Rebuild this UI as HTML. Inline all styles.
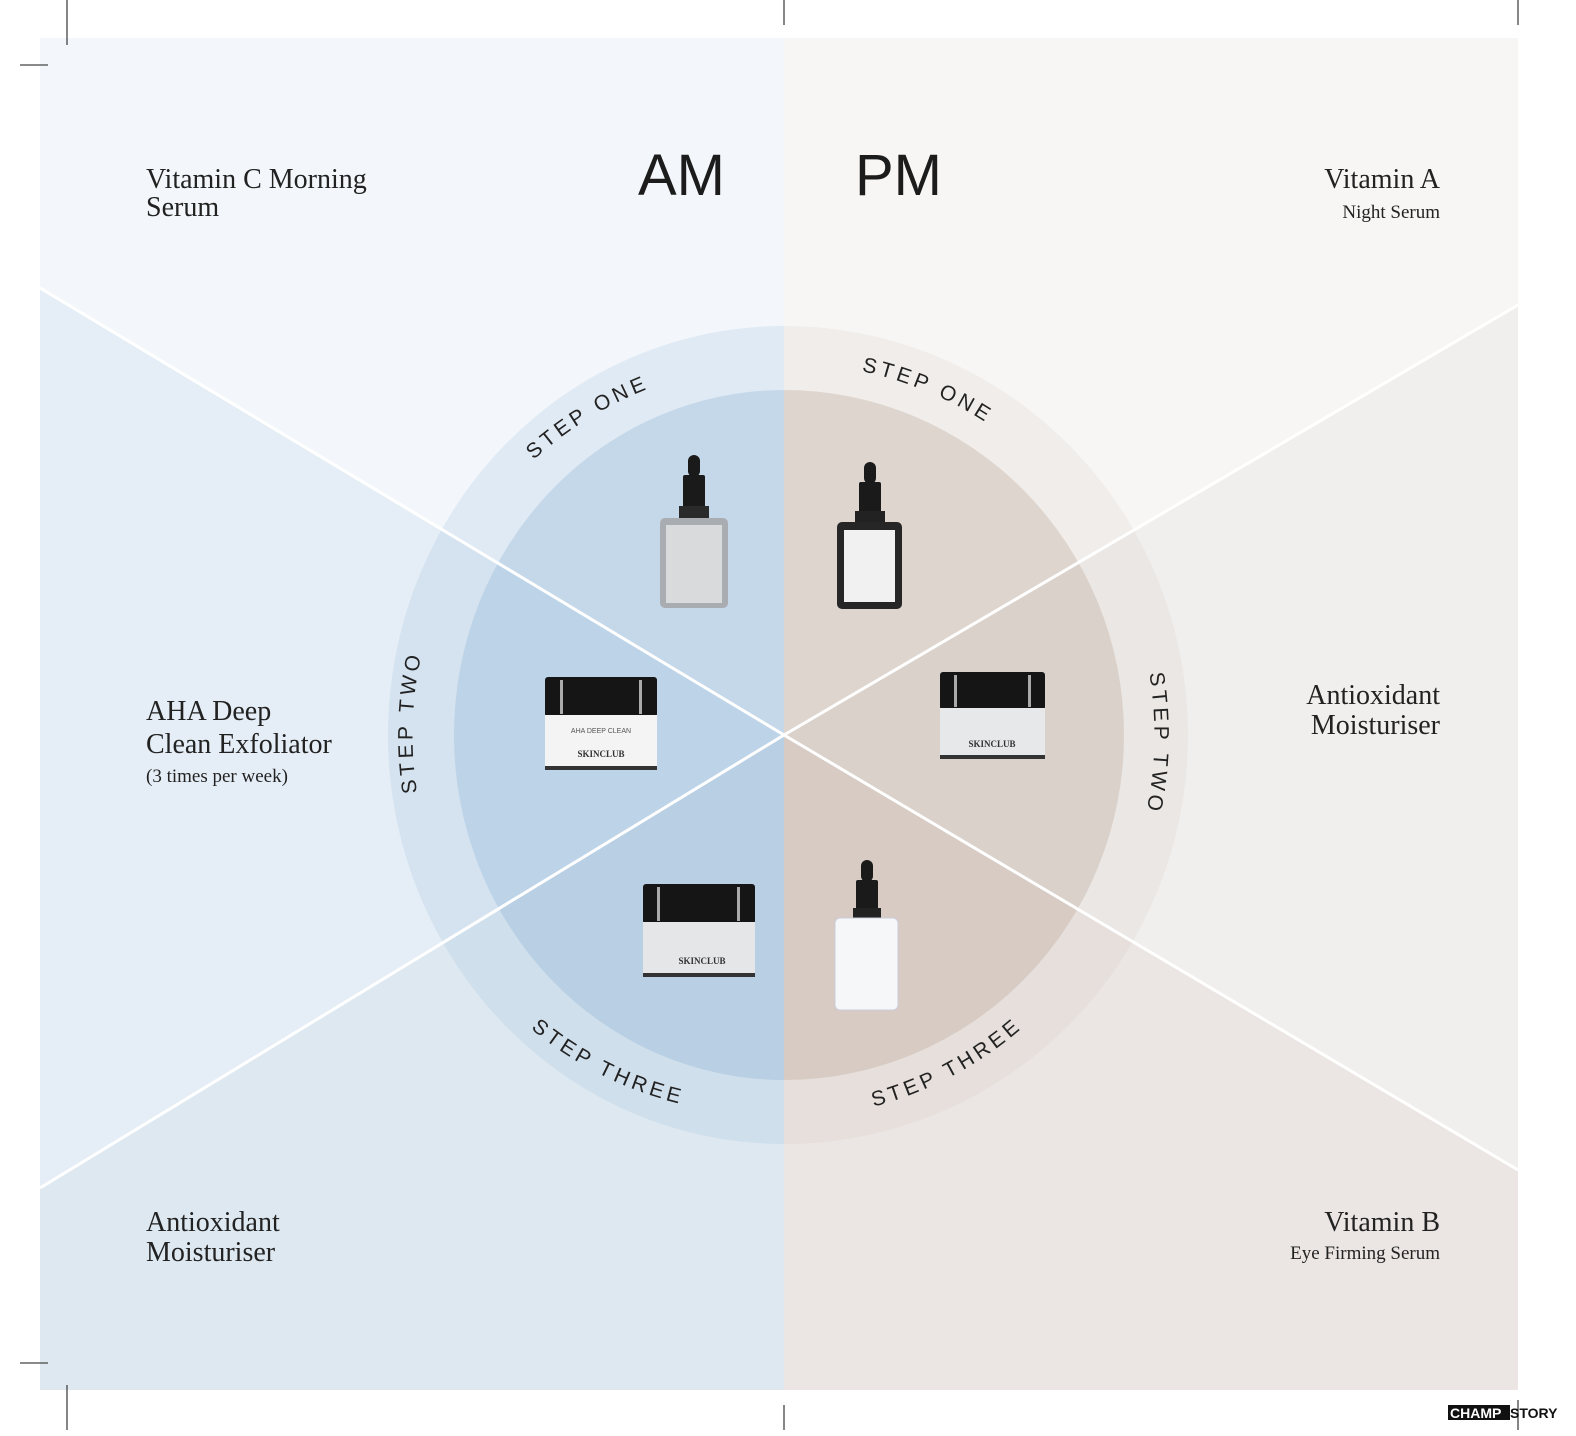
<!DOCTYPE html>
<html><head><meta charset="utf-8"><style>
html,body{margin:0;padding:0;background:#fff;}
svg{display:block;}
.lbl{font-family:"Liberation Serif",serif;fill:#222;}
.step{font-family:"Liberation Sans",sans-serif;font-size:21px;letter-spacing:4px;fill:#222;}
</style></head><body>
<svg width="1576" height="1436" viewBox="0 0 1576 1436" xmlns="http://www.w3.org/2000/svg">
<defs>
<clipPath id="L"><rect x="40" y="38" width="744" height="1352"/></clipPath>
<clipPath id="R"><rect x="784" y="38" width="734" height="1352"/></clipPath>
</defs>
<polygon points="40,38 784,38 784,735 40,288" fill="#f3f7fb"/>
<polygon points="40,288 784,735 40,1188" fill="#e5eef6"/>
<polygon points="40,1188 784,735 784,1390 40,1390" fill="#dde8f1"/>
<polygon points="784,38 1518,38 1518,305 784,735" fill="#f7f6f5"/>
<polygon points="1518,305 784,735 1518,1170" fill="#f1efee"/>
<polygon points="784,735 1518,1170 1518,1390 784,1390" fill="#ebe6e3"/>
<g clip-path="url(#L)">
<ellipse cx="784" cy="735" rx="396" ry="409" fill="rgba(160,192,220,0.22)"/>
<ellipse cx="784" cy="735" rx="330" ry="345" fill="rgba(140,178,210,0.32)"/>
</g>
<g clip-path="url(#R)">
<ellipse cx="784" cy="735" rx="404" ry="409" fill="rgba(200,185,175,0.15)"/>
<ellipse cx="784" cy="735" rx="340" ry="345" fill="rgba(185,165,150,0.33)"/>
</g>
<g stroke="#fff" stroke-width="3">
<line x1="40" y1="288" x2="784" y2="735"/>
<line x1="40" y1="1188" x2="784" y2="735"/>
<line x1="1518" y1="305" x2="784" y2="735"/>
<line x1="1518" y1="1170" x2="784" y2="735"/>
</g>
<g stroke="#444" stroke-width="1.3">
<line x1="67" y1="0" x2="67" y2="45"/><line x1="20" y1="65" x2="48" y2="65"/>
<line x1="784" y1="0" x2="784" y2="25"/><line x1="1518" y1="0" x2="1518" y2="25"/>
<line x1="20" y1="1363" x2="48" y2="1363"/><line x1="67" y1="1385" x2="67" y2="1430"/>
<line x1="784" y1="1405" x2="784" y2="1430"/><line x1="1518" y1="1400" x2="1518" y2="1430"/>
</g>
<path id="p1" d="M 499 496 A 372 372 0 0 1 784 363" fill="none"/>
<path id="p2" d="M 784 363 A 372 372 0 0 1 1101 540" fill="none"/>
<path id="p3" d="M 424 826 A 368 368 0 0 1 424 644" fill="none"/>
<path id="p4" d="M 1142 640 A 370 370 0 0 1 1142 830" fill="none"/>
<path id="p5" d="M 500 1000 A 372 372 0 0 0 700 1108" fill="none"/>
<path id="p6" d="M 860 1110 A 372 372 0 0 0 1060 990" fill="none"/>
<text class="step"><textPath href="#p1" startOffset="50">STEP ONE</textPath></text>
<text class="step"><textPath href="#p2" startOffset="78">STEP ONE</textPath></text>
<text class="step"><textPath href="#p3" startOffset="34">STEP TWO</textPath></text>
<text class="step"><textPath href="#p4" startOffset="34">STEP TWO</textPath></text>
<text class="step"><textPath href="#p5" startOffset="42">STEP THREE</textPath></text>
<text class="step"><textPath href="#p6" startOffset="14">STEP THREE</textPath></text>
<text x="638" y="195" font-family="Liberation Sans,sans-serif" font-size="58" fill="#1c1c1c">AM</text>
<text x="855" y="195" font-family="Liberation Sans,sans-serif" font-size="58" fill="#1c1c1c">PM</text>
<text class="lbl" x="146" y="188" font-size="28">Vitamin C Morning</text>
<text class="lbl" x="146" y="216" font-size="28">Serum</text>
<text class="lbl" x="146" y="720" font-size="28">AHA Deep</text>
<text class="lbl" x="146" y="753" font-size="28">Clean Exfoliator</text>
<text class="lbl" x="146" y="782" font-size="19">(3 times per week)</text>
<text class="lbl" x="146" y="1231" font-size="28">Antioxidant</text>
<text class="lbl" x="146" y="1261" font-size="28">Moisturiser</text>
<text class="lbl" x="1440" y="188" font-size="28" text-anchor="end">Vitamin A</text>
<text class="lbl" x="1440" y="218" font-size="19" text-anchor="end">Night Serum</text>
<text class="lbl" x="1440" y="704" font-size="28" text-anchor="end">Antioxidant</text>
<text class="lbl" x="1440" y="734" font-size="28" text-anchor="end">Moisturiser</text>
<text class="lbl" x="1440" y="1231" font-size="28" text-anchor="end">Vitamin B</text>
<text class="lbl" x="1440" y="1259" font-size="19" text-anchor="end">Eye Firming Serum</text>
<g>
<rect x="688" y="455" width="12" height="22" rx="6" fill="#1a1a1a"/>
<rect x="683" y="475" width="22" height="34" rx="2" fill="#1a1a1a"/>
<rect x="679" y="506" width="30" height="14" fill="#2a2a2a"/>
<rect x="660" y="518" width="68" height="90" rx="5" fill="#a9adb1"/>
<rect x="666" y="525" width="56" height="78" fill="#d8dadc"/>
</g>
<g>
<rect x="864" y="462" width="12" height="22" rx="6" fill="#1a1a1a"/>
<rect x="859" y="482" width="22" height="32" rx="2" fill="#1a1a1a"/>
<rect x="855" y="511" width="30" height="13" fill="#222"/>
<rect x="837" y="522" width="65" height="87" rx="5" fill="#262626"/>
<rect x="844" y="530" width="51" height="72" fill="#f1f1f1"/>
</g>
<g>
<rect x="545" y="677" width="112" height="40" rx="3" fill="#151515"/>
<rect x="560" y="680" width="3" height="34" fill="#aaa"/><rect x="639" y="680" width="3" height="34" fill="#aaa"/>
<rect x="545" y="715" width="112" height="55" fill="#f4f4f4"/>
<rect x="545" y="766" width="112" height="4" fill="#333"/>
<text x="601" y="733" font-family="Liberation Sans,sans-serif" font-size="7" text-anchor="middle" fill="#555">AHA DEEP CLEAN</text>
<text x="601" y="757" font-family="Liberation Serif,serif" font-size="9" font-weight="bold" text-anchor="middle" fill="#333">SKINCLUB</text>
</g>
<g>
<rect x="940" y="672" width="105" height="38" rx="3" fill="#151515"/>
<rect x="954" y="675" width="3" height="32" fill="#aaa"/><rect x="1028" y="675" width="3" height="32" fill="#aaa"/>
<rect x="940" y="708" width="105" height="50" fill="#e6e8ea"/>
<rect x="940" y="755" width="105" height="4" fill="#333"/>
<text x="992" y="747" font-family="Liberation Serif,serif" font-size="9" font-weight="bold" text-anchor="middle" fill="#333">SKINCLUB</text>
</g>
<g>
<rect x="643" y="884" width="112" height="40" rx="3" fill="#151515"/>
<rect x="657" y="887" width="3" height="34" fill="#aaa"/><rect x="737" y="887" width="3" height="34" fill="#aaa"/>
<rect x="643" y="922" width="112" height="54" fill="#e4e6e8"/>
<rect x="643" y="973" width="112" height="4" fill="#333"/>
<text x="702" y="964" font-family="Liberation Serif,serif" font-size="9" font-weight="bold" text-anchor="middle" fill="#333">SKINCLUB</text>
</g>
<g>
<rect x="861" y="860" width="12" height="22" rx="6" fill="#1a1a1a"/>
<rect x="856" y="880" width="22" height="32" rx="2" fill="#1a1a1a"/>
<rect x="853" y="908" width="28" height="12" fill="#222"/>
<rect x="835" y="918" width="63" height="92" rx="5" fill="#f6f7f8" stroke="#ccd" stroke-width="1"/>
</g>
<rect x="1448" y="1405" width="62" height="15" fill="#111"/>
<text x="1450" y="1418" font-family="Liberation Sans,sans-serif" font-size="14" font-weight="bold" fill="#fff">CHAMP</text>
<text x="1510" y="1418" font-family="Liberation Sans,sans-serif" font-size="14" font-weight="bold" fill="#111">STORY</text>
</svg>
</body></html>
